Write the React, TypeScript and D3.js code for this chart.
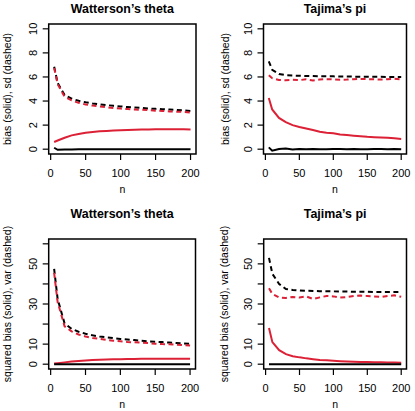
import React from "react";
import * as d3 from "d3";

const nValues = [5, 10, 20, 30, 40, 50, 60, 70, 80, 90, 100, 110, 120, 130, 140, 150, 160, 170, 180, 190, 200];

// Watterson's theta: bias and sd
const wBiasBlack = [0.12, -0.05, -0.02, -0.02, -0.01, -0.01, -0.01, -0.01, -0.01, 0, 0, 0, 0, 0, 0, 0, 0, 0, -0.01, -0.01, -0.01];
const wBiasRed = [0.6, 0.72, 0.95, 1.15, 1.27, 1.36, 1.43, 1.48, 1.52, 1.55, 1.58, 1.6, 1.62, 1.63, 1.64, 1.65, 1.65, 1.65, 1.65, 1.65, 1.64];
const wSdBlack = [6.85, 5.5, 4.5, 4.2, 4.02, 3.9, 3.8, 3.72, 3.66, 3.6, 3.55, 3.5, 3.46, 3.42, 3.38, 3.35, 3.32, 3.29, 3.26, 3.22, 3.18];
const wSdRed = [6.75, 5.4, 4.35, 4.05, 3.85, 3.72, 3.62, 3.55, 3.48, 3.42, 3.37, 3.33, 3.3, 3.27, 3.24, 3.2, 3.17, 3.14, 3.12, 3.09, 3.05];

// Tajima's pi: bias and sd
const tBiasBlack = [0.15, -0.12, 0.02, 0.05, -0.02, 0.01, 0, 0.02, 0, -0.01, 0.01, 0.02, 0, 0.01, 0, -0.01, 0.02, 0.01, 0, 0.01, 0];
const tBiasRed = [4.25, 3.3, 2.6, 2.25, 2.0, 1.85, 1.72, 1.6, 1.45, 1.37, 1.32, 1.22, 1.17, 1.12, 1.08, 1.03, 1.0, 0.98, 0.95, 0.9, 0.85];
const tSdBlack = [7.3, 6.6, 6.25, 6.15, 6.12, 6.1, 6.08, 6.07, 6.06, 6.05, 6.05, 6.04, 6.03, 6.03, 6.02, 6.02, 6.01, 6.01, 6.0, 6.0, 6.0];
const tSdRed = [6.15, 5.9, 5.75, 5.72, 5.76, 5.74, 5.8, 5.7, 5.78, 5.82, 5.8, 5.76, 5.78, 5.82, 5.84, 5.82, 5.8, 5.78, 5.82, 5.85, 5.8];

// Watterson's theta: squared bias and variance
const wSqBiasBlack = [0.02, 0, 0, 0, 0, 0, 0, 0, 0, 0, 0, 0, 0, 0, 0, 0, 0, 0, 0, 0, 0];
const wSqBiasRed = [0.36, 0.52, 0.9, 1.3, 1.6, 1.85, 2.05, 2.2, 2.3, 2.4, 2.5, 2.56, 2.62, 2.66, 2.69, 2.72, 2.72, 2.72, 2.72, 2.72, 2.7];
const wVarBlack = [47.5, 32.5, 20.3, 17.6, 16.2, 15.2, 14.4, 13.8, 13.4, 13.0, 12.6, 12.3, 12.0, 11.7, 11.4, 11.2, 11.0, 10.8, 10.6, 10.4, 10.1];
const wVarRed = [45.5, 31.0, 18.9, 16.4, 14.8, 13.8, 13.1, 12.6, 12.1, 11.7, 11.4, 11.1, 10.9, 10.7, 10.5, 10.2, 10.0, 9.9, 9.7, 9.5, 9.3];

// Tajima's pi: squared bias and variance
const tSqBiasBlack = [0.02, 0.01, 0, 0, 0, 0, 0, 0, 0, 0, 0, 0, 0, 0, 0, 0, 0, 0, 0, 0, 0];
const tSqBiasRed = [18.0, 11.0, 7.0, 5.0, 4.0, 3.4, 2.9, 2.5, 2.1, 1.9, 1.7, 1.5, 1.35, 1.25, 1.15, 1.05, 1.0, 0.95, 0.9, 0.8, 0.75];
const tVarBlack = [53.0, 45.0, 40.0, 37.5, 37.0, 36.8, 36.6, 36.5, 36.4, 36.3, 36.3, 36.2, 36.2, 36.1, 36.1, 36.1, 36.0, 36.0, 36.0, 36.0, 36.0];
const tVarRed = [37.8, 35.0, 33.2, 33.0, 33.5, 33.2, 33.8, 32.5, 33.3, 34.0, 33.8, 33.2, 33.5, 34.0, 34.2, 34.0, 33.8, 33.5, 34.0, 34.3, 33.6];

const xTicks = [0, 50, 100, 150, 200];
const yTicksTop = [0, 2, 4, 6, 8, 10];
const yTicksBottom = [0, 10, 20, 30, 40, 50, 60];
const yLabelsBottom = [0, 10, 30, 50];

const titles = ["Watterson\u2019s theta", "Tajima\u2019s pi"];
const yLabelTop = "bias (solid), sd (dashed)";
const yLabelBottom = "squared bias (solid), var (dashed)";

const RED = "#DC2035";
const FONT = "'Liberation Sans', Arial, Helvetica, sans-serif";

type PanelProps = {
  x0: number; x1: number; y0: number; y1: number;
  ymax: number; yTicks: number[]; yLabels: number[];
  title: string; titleY: number; ylab: string; ylabDx: number;
  biasBlack: number[]; biasRed: number[]; sdBlack: number[]; sdRed: number[];
};

function Panel(p: PanelProps) {
  const xs = d3.scaleLinear().domain([-2.8, 207.8]).range([p.x0, p.x1]);
  const ext = p.ymax * 0.04;
  const ys = d3.scaleLinear().domain([-ext, p.ymax + ext]).range([p.y1, p.y0]);
  const line = (vals: number[]) =>
    d3.line<number>().x((_, i) => xs(nValues[i])).y((v) => ys(v))(vals) || "";
  const cx = (p.x0 + p.x1) / 2;
  const cy = (p.y0 + p.y1) / 2;
  const yTickX = p.x0 - 15.5;
  return (
    <g>
      <text x={cx} y={p.titleY} textAnchor="middle" dominantBaseline="central" fontWeight="bold" fontSize={12.4} fontFamily={FONT}>{p.title}</text>
      {/* data */}
      <path d={line(p.sdBlack)} fill="none" stroke="#000" strokeWidth={2} strokeDasharray="5,3.5" />
      <path d={line(p.sdRed)} fill="none" stroke={RED} strokeWidth={2} strokeDasharray="5,3.5" />
      <path d={line(p.biasRed)} fill="none" stroke={RED} strokeWidth={2} />
      <path d={line(p.biasBlack)} fill="none" stroke="#000" strokeWidth={2} />
      <rect x={p.x0} y={p.y0} width={p.x1 - p.x0} height={p.y1 - p.y0} fill="none" stroke="#000" strokeWidth={1.5} />
      {/* x axis */}
      {xTicks.map((t) => (
        <g key={"x" + t}>
          <line x1={xs(t)} x2={xs(t)} y1={p.y1} y2={p.y1 + 6} stroke="#000" strokeWidth={1.2} />
          <text x={xs(t)} y={p.y1 + 19} textAnchor="middle" dominantBaseline="central" fontSize={11} fontFamily={FONT}>{t}</text>
        </g>
      ))}
      <text x={cx} y={p.y1 + 35} textAnchor="middle" dominantBaseline="central" fontSize={10.5} fontFamily={FONT}>n</text>
      {/* y axis */}
      {p.yTicks.map((t) => (
        <line key={"yt" + t} x1={p.x0 - 6} x2={p.x0} y1={ys(t)} y2={ys(t)} stroke="#000" strokeWidth={1.2} />
      ))}
      {p.yLabels.map((t) => (
        <text key={"yl" + t} x={yTickX} y={ys(t)} transform={`rotate(-90 ${yTickX} ${ys(t)})`} textAnchor="middle" dominantBaseline="central" fontSize={11} fontFamily={FONT}>{t}</text>
      ))}
      <text x={p.x0 - p.ylabDx} y={cy} transform={`rotate(-90 ${p.x0 - p.ylabDx} ${cy})`} textAnchor="middle" dominantBaseline="central" fontSize={10.5} fontFamily={FONT}>{p.ylab}</text>
    </g>
  );
}

export default function App() {
  return (
    <svg width={415} height={411} style={{ position: "absolute", left: 0, top: 0, background: "#fff" }}>
      <rect width={415} height={411} fill="#fff" />
      <Panel x0={48.7} x1={196} y0={24} y1={154} ymax={10} yTicks={yTicksTop} yLabels={yTicksTop}
        title={titles[0]} titleY={8.5} ylab={yLabelTop} ylabDx={41.4}
        biasBlack={wBiasBlack} biasRed={wBiasRed} sdBlack={wSdBlack} sdRed={wSdRed} />
      <Panel x0={263.5} x1={406.5} y0={24} y1={154} ymax={10} yTicks={yTicksTop} yLabels={yTicksTop}
        title={titles[1]} titleY={8.5} ylab={yLabelTop} ylabDx={38.5}
        biasBlack={tBiasBlack} biasRed={tBiasRed} sdBlack={tSdBlack} sdRed={tSdRed} />
      <Panel x0={48.7} x1={195.5} y0={239} y1={369} ymax={60} yTicks={yTicksBottom} yLabels={yLabelsBottom}
        title={titles[0]} titleY={214} ylab={yLabelBottom} ylabDx={42}
        biasBlack={wSqBiasBlack} biasRed={wSqBiasRed} sdBlack={wVarBlack} sdRed={wVarRed} />
      <Panel x0={263.7} x1={406.5} y0={239} y1={369} ymax={60} yTicks={yTicksBottom} yLabels={yLabelsBottom}
        title={titles[1]} titleY={214} ylab={yLabelBottom} ylabDx={39.7}
        biasBlack={tSqBiasBlack} biasRed={tSqBiasRed} sdBlack={tVarBlack} sdRed={tVarRed} />
    </svg>
  );
}
